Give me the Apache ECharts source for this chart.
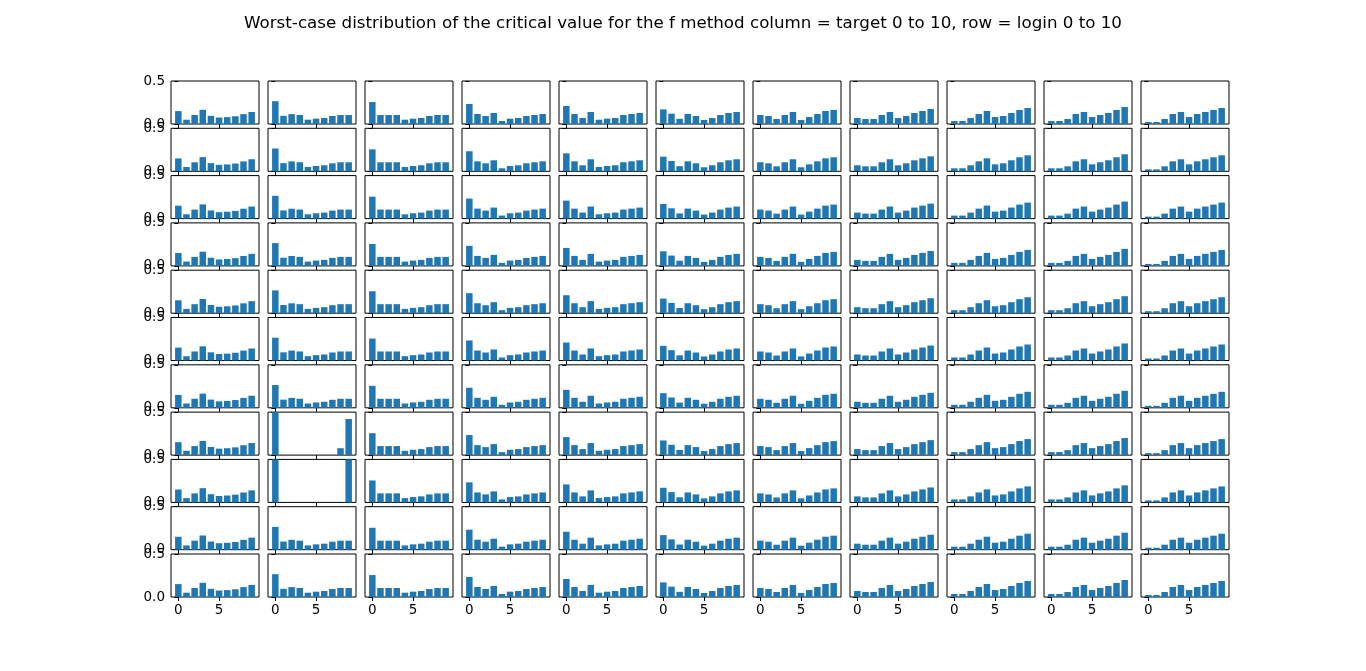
<!DOCTYPE html>
<html><head><meta charset="utf-8">
<script src="https://cdn.jsdelivr.net/npm/echarts@6/dist/echarts.min.js"></script>
<style>html,body{margin:0;padding:0;background:#fff}#c{width:1366px;height:671px}</style>
</head><body><div id="c"></div>
<script>
const titleText = "Worst-case distribution of the critical value for the f method column = target 0 to 10, row = login 0 to 10";
const xValues = [0,1,2,3,4,5,6,7,8,9];
const xTicks = [0,5];
const yTicks = [0.0,0.5];
// typical distribution per target column
const col0 = [0.15,0.05,0.105,0.165,0.095,0.075,0.08,0.09,0.115,0.14];
const col1 = [0.265,0.095,0.115,0.105,0.05,0.062,0.07,0.093,0.105,0.105];
const col2 = [0.255,0.105,0.105,0.105,0.05,0.062,0.07,0.093,0.105,0.105];
const col3 = [0.233,0.116,0.093,0.128,0.035,0.062,0.07,0.093,0.105,0.116];
const col4 = [0.209,0.116,0.07,0.14,0.05,0.062,0.07,0.105,0.116,0.128];
const col5 = [0.17,0.12,0.06,0.116,0.093,0.047,0.07,0.105,0.128,0.14];
const col6 = [0.105,0.093,0.058,0.105,0.14,0.047,0.081,0.116,0.151,0.163];
const col7 = [0.07,0.058,0.058,0.105,0.14,0.07,0.093,0.128,0.151,0.174];
const col8 = [0.035,0.035,0.07,0.116,0.151,0.081,0.093,0.128,0.163,0.186];
const col9 = [0.035,0.035,0.058,0.116,0.14,0.081,0.105,0.128,0.163,0.198];
const col10 = [0.023,0.023,0.058,0.116,0.14,0.081,0.116,0.14,0.163,0.186];
// special cells: row 7 and row 8 of target 1
const row7col1 = [0.55,0,0,0,0,0,0,0,0.08,0.42];
const row8col1 = [0.55,0,0,0,0,0,0,0,0,0.55];

const cols = [col0,col1,col2,col3,col4,col5,col6,col7,col8,col9,col10];
const N = 11;
const grid=[], xAxis=[], yAxis=[], series=[];
for (let r=0;r<N;r++){
  for (let c=0;c<N;c++){
    const i = r*N+c;
    grid.push({left:171+c*97, top:81+r*47.3, width:88, height:43, show:true, borderColor:'#000', borderWidth:1, backgroundColor:'#fff'});
    xAxis.push({type:'value', gridIndex:i, min:-0.9, max:9.9, position:'bottom',
      axisLine:{show:false}, splitLine:{show:false},
      axisTick:{show:true, inside:false, length:4, lineStyle:{color:'#000'}, customValues:xTicks},
      axisLabel:{show:r===N-1, customValues:xTicks, color:'#000', fontSize:13.5, fontFamily:'DejaVu Sans', margin:6}});
    yAxis.push({type:'value', gridIndex:i, min:0, max:0.5, position:'left',
      axisLine:{show:false}, splitLine:{show:false},
      axisTick:{show:true, inside:false, length:4, lineStyle:{color:'#000'}, customValues:yTicks},
      axisLabel:{show:c===0, customValues:yTicks, color:'#000', fontSize:13.5, fontFamily:'DejaVu Sans', margin:6, formatter:v=>v.toFixed(1)}});
    let vals = cols[c];
    if (r===7 && c===1) vals = row7col1;
    if (r===8 && c===1) vals = row8col1;
    series.push({type:'bar', xAxisIndex:i, yAxisIndex:i, barWidth:6.5, clip:true, silent:true,
      itemStyle:{color:'#1f77b4'}, data:xValues.map((x,k)=>[x,vals[k]])});
  }
}
const chart = echarts.init(document.getElementById('c'));
chart.setOption({animation:false, backgroundColor:'#fff',
  title:{text:titleText, left:'center', top:10, textStyle:{fontSize:16.7, fontWeight:'normal', color:'#000', fontFamily:'DejaVu Sans'}},
  grid, xAxis, yAxis, series});
</script></body></html>
